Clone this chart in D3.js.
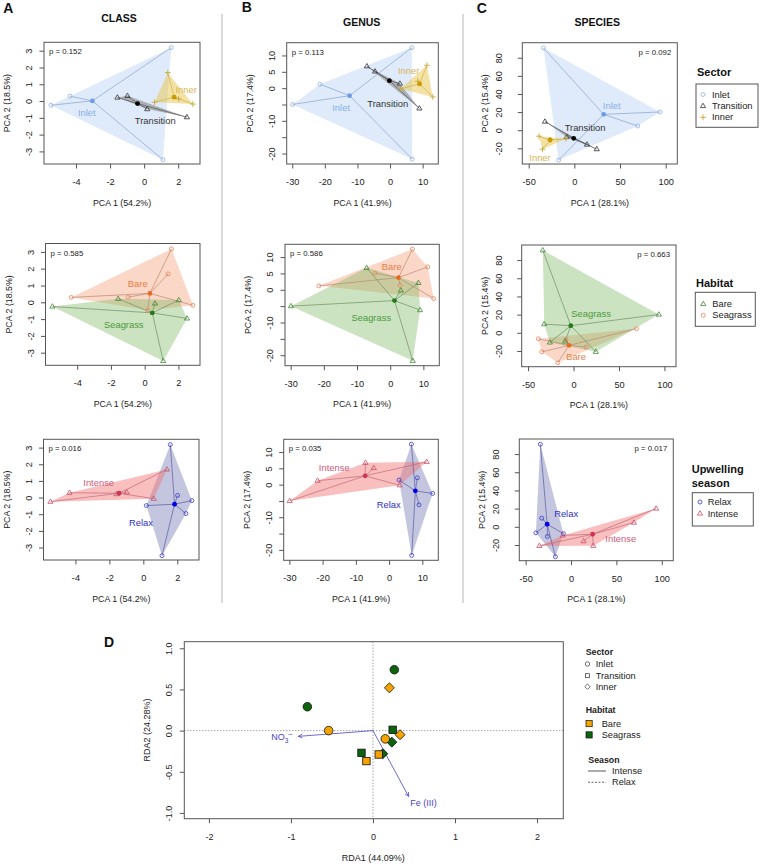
<!DOCTYPE html>
<html>
<head>
<meta charset="utf-8">
<script src="https://cdn.jsdelivr.net/npm/d3@7"></script>
<style>
  body { margin: 0; background: #fff; }
  svg { font-family: "Liberation Sans", Arial, sans-serif; }
</style>
</head>
<body>
<svg id="fig" width="760" height="865"></svg>
<script>
// ---- data: 12 samples (Inlet 1-4, Transition 1-4, Inner 1-4) ----
var sampleSector = ["Inlet", "Inlet", "Inlet", "Inlet", "Transition", "Transition", "Transition", "Transition", "Inner", "Inner", "Inner", "Inner"];
var sampleHabitat = ["Seagrass", "Bare", "Bare", "Seagrass", "Seagrass", "Bare", "Bare", "Seagrass", "Bare", "Seagrass", "Bare", "Seagrass"];
var sampleSeason = ["Intense", "Intense", "Relax", "Relax", "Intense", "Intense", "Relax", "Relax", "Intense", "Intense", "Relax", "Relax"];

var classPC1 = [-5.47, -4.35, 1.59, 1.1, -1.57, -0.98, 0.18, 2.51, 1.39, 0.61, 2.86, 2.02];
var classPC2 = [-0.25, 0.29, 3.18, -3.49, 0.21, 0.31, -0.48, -0.96, 1.69, -0.07, -0.18, 0.13];
var genusPC1 = [-29.9, -21.5, 6.7, 6.8, -7.1, -4.6, 3.0, 9.0, 11.3, 3.2, 13.1, 8.5];
var genusPC2 = [-5.0, 1.2, 12.4, -21.7, 6.7, 5.1, 1.4, -6.2, 7.0, -0.2, -2.7, 2.1];
var speciesPC1 = [93.8, 69.3, -17.2, -33.8, 24.5, 13.8, -8.4, -32.2, -34.9, -9.2, -38.7, -26.0];
var speciesPC2 = [20.1, 4.6, -32.9, 90.8, -20.9, -15.8, -7.5, 9.5, -21.0, -9.5, -6.6, -10.6];

var sectorGroups = ["Inlet", "Transition", "Inner"];
var habitatGroups = ["Bare", "Seagrass"];
var seasonGroups = ["Relax", "Intense"];

// group centroids [pc1, pc2], same order as the group lists
var classSectorCent = [[-3.04, 0.01], [-0.39, -0.15], [1.76, 0.23]];
var classHabitatCent = [[0.31, 0.53], [0.45, -0.63]];
var classSeasonCent = [[1.84, -0.4], [-1.43, 0.26]];
var genusSectorCent = [[-12.4, -2.3], [-0.2, 2.3], [9.06, 1.3]];
var genusHabitatCent = [[2.5, 3.7], [1.3, -3.3]];
var genusSeasonCent = [[7.9, -1.9], [-7.2, 2.7]];
var speciesSectorCent = [[32.1, 17.5], [-0.7, -9.0], [-26.6, -10.8]];
var speciesHabitatCent = [[-4.9, -13.8], [-3.0, 7.8]];
var speciesSeasonCent = [[-26.3, 2.8], [23.8, -8.2]];

var levelTitles = ["CLASS", "GENUS", "SPECIES"];
var panelLetters = ["A", "B", "C"];
var pc1Var = ["54.2", "41.9", "28.1"];
var pc2Var = ["18.5", "17.4", "15.4"];
var pValues = [["0.152", "0.585", "0.016"], ["0.113", "0.586", "0.035"], ["0.092", "0.663", "0.017"]];

var classXTicks = [-4, -2, 0, 2], classYTicks = [-3, -2, -1, 0, 1, 2, 3];
var genusXTicks = [-30, -20, -10, 0, 10], genusYTicks = [-20, -15, -10, -5, 0, 5, 10];
var speciesXTicks = [-50, 0, 50, 100], speciesYTicks = [-20, 0, 20, 40, 60, 80];

// RDA (panel D)
var rda1 = [-0.8, -0.54, 0.26, 0.15, -0.14, -0.08, 0.07, 0.24, 0.2, 0.12, 0.33, 0.23];
var rda2 = [0.29, 0.0, 0.74, -0.1, -0.27, -0.37, -0.29, 0.01, 0.52, -0.28, -0.05, -0.14];
var rdaSector = ["Inlet", "Inlet", "Inlet", "Inlet", "Transition", "Transition", "Transition", "Transition", "Inner", "Inner", "Inner", "Inner"];
var rdaHabitat = ["Seagrass", "Bare", "Seagrass", "Bare", "Seagrass", "Bare", "Bare", "Seagrass", "Bare", "Seagrass", "Bare", "Seagrass"];
var envRDA1 = [-0.91, 0.435];
var envRDA2 = [-0.07, -0.8];
var rdaXTicks = [-2, -1, 0, 1, 2], rdaYTicks = [-1, -0.5, 0, 0.5, 1];

// ---- layout ----
var svg = d3.select("#fig");

var boxes = [
  [[44, 200, 42.3, 164], [286.7, 438.3, 42.7, 164], [522.3, 677.3, 42.7, 164]],
  [[45.5, 200, 243.5, 365.3], [285, 439.3, 244.3, 365.7], [521.7, 676, 245, 366.7]],
  [[43.5, 199, 439.3, 560], [283.7, 438.3, 439.3, 560.3], [519.3, 673.3, 439, 560.7]]
];
var xDomains = [[-5.88, 3.28], [-31.7, 14.8], [-57, 112.7]];
var yDomains = [[-3.75, 3.5], [-23.2, 13.9], [-37.3, 96.6]];
var yTickLabOffset = [12, 12, 20];

// label positions in data units [row][col][group]
var labelPos = [
  [[[-3.37, -0.72], [0.65, -1.16], [2.47, 0.7]], [[-15.0, -5.9], [-0.7, -4.7], [5.7, 5.3]], [[40.9, 27.4], [11.7, 3.2], [-37.6, -29.9]]],
  [[[-0.41, 1.09], [-1.24, -1.34]], [[0.46, 6.9], [-5.7, -8.5]], [[2.8, -26.2], [19.3, 21.4]]],
  [[[-0.14, -1.53], [-2.63, 0.89]], [[-0.1, -6.3], [-16.5, 5.1]], [[-5.4, 14.2], [54.8, -13.4]]]
];

var sectorStyle = [
  { shape: "circle", point: "#8db1e6", hull: "#9cc0ee", op: 0.32, line: "#8aa2cf", cent: "#6d9de6", label: "#86afe6" },
  { shape: "triangle", point: "#333333", hull: "#808080", op: 0.55, line: "#555555", cent: "#000000", label: "#333333" },
  { shape: "plus", point: "#c9a93a", hull: "#e8c64a", op: 0.5, line: "#d0b04d", cent: "#c89b00", label: "#d8b454" }
];
var habitatStyle = [
  { shape: "circle", point: "#e8845a", hull: "#f5a07a", op: 0.42, line: "#b98a74", cent: "#ea6a1e", label: "#ea7e44" },
  { shape: "triangle", point: "#3e8a32", hull: "#7fba65", op: 0.4, line: "#6f8f66", cent: "#257a17", label: "#4b9a3e" }
];
var seasonStyle = [
  { shape: "circle", point: "#3a3acc", hull: "#6068a8", op: 0.38, line: "#5a5aa0", cent: "#0000e6", label: "#2e2ecc" },
  { shape: "triangle", point: "#cf4d6b", hull: "#f26f6f", op: 0.45, line: "#c26a7a", cent: "#cf3355", label: "#d0587a" }
];

var levelPC1 = [classPC1, genusPC1, speciesPC1];
var levelPC2 = [classPC2, genusPC2, speciesPC2];
var levelXTicks = [classXTicks, genusXTicks, speciesXTicks];
var levelYTicks = [classYTicks, genusYTicks, speciesYTicks];
var factorOf = [sampleSector, sampleHabitat, sampleSeason];
var factorGroups = [sectorGroups, habitatGroups, seasonGroups];
var factorStyles = [sectorStyle, habitatStyle, seasonStyle];
var centroids = [
  [classSectorCent, genusSectorCent, speciesSectorCent],
  [classHabitatCent, genusHabitatCent, speciesHabitatCent],
  [classSeasonCent, genusSeasonCent, speciesSeasonCent]
];

function drawSymbol(g, shape, px, py, color) {
  if (shape == "circle") {
    g.append("circle").attr("cx", px).attr("cy", py).attr("r", 2.0)
      .attr("fill", "none").attr("stroke", color).attr("stroke-width", 0.8);
  } else if (shape == "triangle") {
    g.append("path")
      .attr("d", "M" + px + "," + (py - 2.8) + "L" + (px + 2.6) + "," + (py + 1.6) + "L" + (px - 2.6) + "," + (py + 1.6) + "Z")
      .attr("fill", "none").attr("stroke", color).attr("stroke-width", 0.8);
  } else {
    g.append("path")
      .attr("d", "M" + (px - 2.9) + "," + py + "H" + (px + 2.9) + "M" + px + "," + (py - 2.9) + "V" + (py + 2.9))
      .attr("fill", "none").attr("stroke", color).attr("stroke-width", 0.9);
  }
}

function numLabel(d) { return String(d); }

function drawPca(col, row) {
  var b = boxes[row][col];
  var x = d3.scaleLinear().domain(xDomains[col]).range([b[0], b[1]]);
  var y = d3.scaleLinear().domain(yDomains[col]).range([b[3], b[2]]);
  var pc1 = levelPC1[col], pc2 = levelPC2[col];
  var fac = factorOf[row], groups = factorGroups[row], sty = factorStyles[row];
  var cents = centroids[row][col], labs = labelPos[row][col];
  var g = svg.append("g");

  // hulls
  groups.forEach(function (name, k) {
    var pts = [];
    for (var i = 0; i < pc1.length; i++) if (fac[i] == name) pts.push([x(pc1[i]), y(pc2[i])]);
    var hull = d3.polygonHull(pts);
    g.append("path").attr("d", "M" + hull.join("L") + "Z")
      .attr("fill", sty[k].hull).attr("fill-opacity", sty[k].op);
  });
  // spiders
  groups.forEach(function (name, k) {
    for (var i = 0; i < pc1.length; i++) {
      if (fac[i] != name) continue;
      g.append("line")
        .attr("x1", x(cents[k][0])).attr("y1", y(cents[k][1]))
        .attr("x2", x(pc1[i])).attr("y2", y(pc2[i]))
        .attr("stroke", sty[k].line).attr("stroke-width", 0.7);
    }
  });
  // points
  for (var i = 0; i < pc1.length; i++) {
    var k = groups.indexOf(fac[i]);
    drawSymbol(g, sty[k].shape, x(pc1[i]), y(pc2[i]), sty[k].point);
  }
  // centroids + labels
  groups.forEach(function (name, k) {
    g.append("circle").attr("cx", x(cents[k][0])).attr("cy", y(cents[k][1])).attr("r", 2.4)
      .attr("fill", sty[k].cent);
    g.append("text").attr("x", x(labs[k][0])).attr("y", y(labs[k][1]))
      .attr("dy", "0.35em").attr("text-anchor", "middle")
      .attr("font-size", 9.4).attr("fill", sty[k].label).text(name);
  });

  // box
  g.append("rect").attr("x", b[0]).attr("y", b[2]).attr("width", b[1] - b[0]).attr("height", b[3] - b[2])
    .attr("fill", "none").attr("stroke", "#555").attr("stroke-width", 1);

  // axes
  var xa = g.append("g").attr("transform", "translate(0," + b[3] + ")")
    .call(d3.axisBottom(x).tickValues(levelXTicks[col]).tickSize(4.5).tickFormat(numLabel));
  xa.select(".domain").remove();
  xa.selectAll("line").attr("stroke", "#555");
  xa.selectAll("text").attr("y", 21).attr("dy", 0).attr("font-size", 9.2).attr("fill", "#222")
    .attr("font-family", "Liberation Sans, Arial, sans-serif");

  var ya = g.append("g").attr("transform", "translate(" + b[0] + ",0)")
    .call(d3.axisLeft(y).tickValues(levelYTicks[col]).tickSize(4.5).tickFormat(function (d) {
      if (col == 1 && (d == -5 || d == -15)) return "";
      return String(d);
    }));
  ya.select(".domain").remove();
  ya.selectAll("line").attr("stroke", "#555");
  ya.selectAll("text").attr("transform", "rotate(-90)").attr("x", 0).attr("y", -yTickLabOffset[col])
    .attr("dy", 0).attr("text-anchor", "middle").attr("font-size", 9.2).attr("fill", "#222")
    .attr("font-family", "Liberation Sans, Arial, sans-serif");

  // axis titles
  g.append("text").attr("x", (b[0] + b[1]) / 2).attr("y", b[3] + 41.5).attr("text-anchor", "middle")
    .attr("font-size", 8.8).attr("fill", "#222").text("PCA 1 (" + pc1Var[col] + "%)");
  g.append("text").attr("transform", "translate(" + (b[0] - 34) + "," + ((b[2] + b[3]) / 2) + ") rotate(-90)")
    .attr("text-anchor", "middle").attr("font-size", 8.8).attr("fill", "#222")
    .text("PCA 2 (" + pc2Var[col] + "%)");

  // p value
  var right = col == 2;
  g.append("text").attr("x", right ? b[1] - 6 : b[0] + 5).attr("y", b[2] + 12)
    .attr("text-anchor", right ? "end" : "start").attr("font-size", 7.8).attr("fill", "#222")
    .text("p = " + pValues[col][row]);
}

for (var c = 0; c < 3; c++) for (var r = 0; r < 3; r++) drawPca(c, r);

// titles & letters
var titleX = [119, 361.7, 597.3], titleY = [21.5, 26, 26];
var letterX = [3.3, 241.7, 476.7], letterY = [13.3, 11.7, 12.7];
for (var c = 0; c < 3; c++) {
  svg.append("text").attr("x", titleX[c]).attr("y", titleY[c]).attr("text-anchor", "middle")
    .attr("font-size", 10.5).attr("font-weight", "bold").attr("fill", "#111").text(levelTitles[c]);
  svg.append("text").attr("x", letterX[c]).attr("y", letterY[c])
    .attr("font-size", 14).attr("font-weight", "bold").attr("fill", "#111").text(panelLetters[c]);
}

// separators
[222, 463].forEach(function (sx) {
  svg.append("line").attr("x1", sx).attr("x2", sx).attr("y1", 14).attr("y2", 603)
    .attr("stroke", "#c6c6c6").attr("stroke-width", 1.3);
});

// PCA legends
function pcaLegend(titleLines, tx, ty, box, names, styles, shapes, symX, textX, rowY) {
  titleLines.forEach(function (t, i) {
    svg.append("text").attr("x", tx).attr("y", ty + i * 14).attr("font-size", 11)
      .attr("font-weight", "bold").attr("fill", "#111").text(t);
  });
  svg.append("rect").attr("x", box[0]).attr("y", box[1]).attr("width", box[2] - box[0]).attr("height", box[3] - box[1])
    .attr("fill", "none").attr("stroke", "#555").attr("stroke-width", 1);
  var lg = svg.append("g");
  names.forEach(function (n, i) {
    drawSymbol(lg, shapes[i], symX, rowY[i] - 3, styles[i]);
    lg.append("text").attr("x", textX).attr("y", rowY[i]).attr("font-size", 9.3).attr("fill", "#222").text(n);
  });
}
pcaLegend(["Sector"], 697, 76, [696, 84, 758, 127.3], sectorGroups,
  sectorStyle.map(function (s) { return s.point; }), ["circle", "triangle", "plus"], 703, 712, [97.5, 109, 120.3]);
pcaLegend(["Habitat"], 696, 287.3, [695.3, 292.3, 755.3, 326.3], habitatGroups,
  [habitatStyle[1].point, habitatStyle[0].point], ["triangle", "circle"], 703.3, 712.3, [307, 318.3]);
pcaLegend(["Upwelling", "season"], 691.7, 473, [692.3, 492.7, 753.3, 526], seasonGroups,
  seasonStyle.map(function (s) { return s.point; }), ["circle", "triangle"], 700, 707.7, [505, 516.5]);

// ---- panel D ----
(function () {
  var b = [184.3, 563.3, 641.7, 818.7];
  var x = d3.scaleLinear().domain([-2.3, 2.32]).range([b[0], b[1]]);
  var y = d3.scaleLinear().domain([-1.07, 1.08]).range([b[3], b[2]]);
  var g = svg.append("g");
  var habColor = { Bare: "#f5a300", Seagrass: "#0b640b" };

  g.append("line").attr("x1", x(0)).attr("x2", x(0)).attr("y1", b[2]).attr("y2", b[3])
    .attr("stroke", "#555").attr("stroke-width", 0.8).attr("stroke-dasharray", "1,2");
  g.append("line").attr("x1", b[0]).attr("x2", b[1]).attr("y1", y(0)).attr("y2", y(0))
    .attr("stroke", "#555").attr("stroke-width", 0.8).attr("stroke-dasharray", "1,2");

  // arrows
  var arrowCol = "#4646c8";
  for (var e = 0; e < envRDA1.length; e++) {
    var x0 = x(0), y0 = y(0), x1 = x(envRDA1[e]), y1 = y(envRDA2[e]);
    g.append("line").attr("x1", x0).attr("y1", y0).attr("x2", x1).attr("y2", y1)
      .attr("stroke", arrowCol).attr("stroke-width", 0.8);
    var ang = Math.atan2(y1 - y0, x1 - x0), L = 4.5;
    [ang + Math.PI - 0.45, ang + Math.PI + 0.45].forEach(function (a) {
      g.append("line").attr("x1", x1).attr("y1", y1)
        .attr("x2", x1 + L * Math.cos(a)).attr("y2", y1 + L * Math.sin(a))
        .attr("stroke", arrowCol).attr("stroke-width", 0.8);
    });
  }
  var no3 = g.append("text").attr("x", x(envRDA1[0]) - 6).attr("y", y(envRDA2[0]) + 4)
    .attr("text-anchor", "end").attr("font-size", 9).attr("fill", arrowCol);
  no3.append("tspan").text("NO");
  no3.append("tspan").attr("dy", 2.5).attr("font-size", 6.5).text("3");
  no3.append("tspan").attr("dy", -6.5).attr("font-size", 7).text("\u2013");
  g.append("text").attr("x", x(envRDA1[1]) + 1.5).attr("y", y(envRDA2[1]) + 10)
    .attr("font-size", 9).attr("fill", arrowCol).text("Fe (III)");

  // sample points
  var order = ["Inner", "Transition", "Inlet"];
  order.forEach(function (sec) {
    for (var i = 0; i < rda1.length; i++) {
      if (rdaSector[i] != sec) continue;
      var px = x(rda1[i]), py = y(rda2[i]), col = habColor[rdaHabitat[i]];
      var m;
      if (sec == "Inlet") m = g.append("circle").attr("cx", px).attr("cy", py).attr("r", 4.3);
      else if (sec == "Transition") m = g.append("rect").attr("x", px - 3.7).attr("y", py - 3.7).attr("width", 7.4).attr("height", 7.4);
      else m = g.append("path").attr("d", "M" + px + "," + (py - 5) + "L" + (px + 5) + "," + py + "L" + px + "," + (py + 5) + "L" + (px - 5) + "," + py + "Z");
      m.attr("fill", col).attr("stroke", "#111").attr("stroke-width", 0.8);
    }
  });

  g.append("rect").attr("x", b[0]).attr("y", b[2]).attr("width", b[1] - b[0]).attr("height", b[3] - b[2])
    .attr("fill", "none").attr("stroke", "#555").attr("stroke-width", 1);

  var xa = g.append("g").attr("transform", "translate(0," + b[3] + ")")
    .call(d3.axisBottom(x).tickValues(rdaXTicks).tickSize(4.5).tickFormat(numLabel));
  xa.select(".domain").remove();
  xa.selectAll("line").attr("stroke", "#555");
  xa.selectAll("text").attr("y", 21.5).attr("dy", 0).attr("font-size", 9).attr("fill", "#222")
    .attr("font-family", "Liberation Sans, Arial, sans-serif");
  var ya = g.append("g").attr("transform", "translate(" + b[0] + ",0)")
    .call(d3.axisLeft(y).tickValues(rdaYTicks).tickSize(4.5).tickFormat(function (d) { return d.toFixed(1); }));
  ya.select(".domain").remove();
  ya.selectAll("line").attr("stroke", "#555");
  ya.selectAll("text").attr("transform", "rotate(-90)").attr("x", 0).attr("y", -12.6)
    .attr("dy", 0).attr("text-anchor", "middle").attr("font-size", 9).attr("fill", "#222")
    .attr("font-family", "Liberation Sans, Arial, sans-serif");

  g.append("text").attr("x", 373.3).attr("y", 861).attr("text-anchor", "middle")
    .attr("font-size", 9).attr("fill", "#222").text("RDA1 (44.09%)");
  g.append("text").attr("transform", "translate(150,730) rotate(-90)").attr("text-anchor", "middle")
    .attr("font-size", 9).attr("fill", "#222").text("RDA2 (24.28%)");
  svg.append("text").attr("x", 104).attr("y", 647).attr("font-size", 14).attr("font-weight", "bold")
    .attr("fill", "#111").text("D");

  // legend
  var lg = svg.append("g").attr("fill", "#222");
  lg.append("text").attr("x", 585.7).attr("y", 655).attr("font-size", 8.8).attr("font-weight", "bold").text("Sector");
  var secY = [667, 678.7, 690];
  lg.append("circle").attr("cx", 587.5).attr("cy", secY[0] - 3).attr("r", 2.2).attr("fill", "none").attr("stroke", "#333").attr("stroke-width", 0.7);
  lg.append("rect").attr("x", 585.5).attr("y", secY[1] - 5).attr("width", 4).attr("height", 4).attr("fill", "none").attr("stroke", "#333").attr("stroke-width", 0.7);
  lg.append("path").attr("d", "M587.5," + (secY[2] - 6) + "l2.7,2.7l-2.7,2.7l-2.7,-2.7Z").attr("fill", "none").attr("stroke", "#333").attr("stroke-width", 0.7);
  sectorGroups.forEach(function (n, i) {
    lg.append("text").attr("x", 595.7).attr("y", secY[i]).attr("font-size", 9.2).text(n);
  });
  lg.append("text").attr("x", 585.7).attr("y", 712.7).attr("font-size", 8.8).attr("font-weight", "bold").text("Habitat");
  var habY = [727, 738.3];
  habitatGroups.forEach(function (n, i) {
    lg.append("rect").attr("x", 586).attr("y", habY[i] - 6.5).attr("width", 6.2).attr("height", 6.2)
      .attr("fill", habColor[n]).attr("stroke", "#111").attr("stroke-width", 0.7);
    lg.append("text").attr("x", 601.7).attr("y", habY[i]).attr("font-size", 9.2).text(n);
  });
  lg.append("text").attr("x", 588.3).attr("y", 763.3).attr("font-size", 8.8).attr("font-weight", "bold").text("Season");
  var seaY = [771, 782.3], seaNames = ["Intense", "Relax"];
  seaNames.forEach(function (n, i) {
    lg.append("line").attr("x1", 588).attr("x2", 606).attr("y1", seaY[i]).attr("y2", seaY[i])
      .attr("stroke", "#666").attr("stroke-width", 1.1).attr("stroke-dasharray", i == 1 ? "2,1.5" : null);
    lg.append("text").attr("x", 612).attr("y", seaY[i] + 3).attr("font-size", 9.2).text(n);
  });
})();
</script>
</body>
</html>
